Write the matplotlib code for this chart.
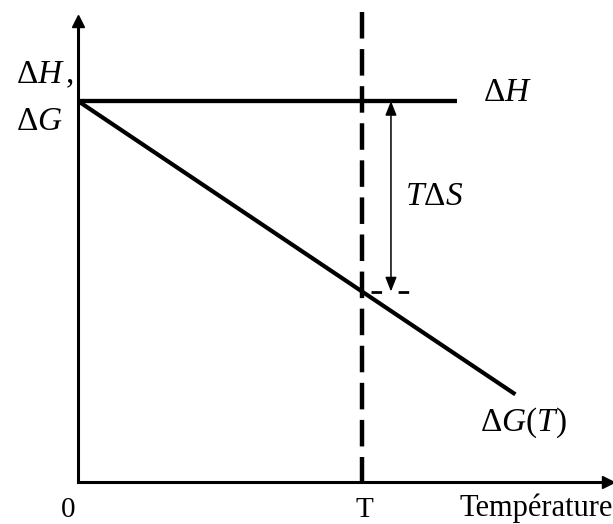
import matplotlib
matplotlib.use("Agg")
import matplotlib.pyplot as plt

plt.rcParams['font.family'] = ['Liberation Serif', 'DejaVu Serif']
plt.rcParams['mathtext.fontset'] = 'custom'
plt.rcParams['mathtext.rm'] = 'Liberation Serif'
plt.rcParams['mathtext.it'] = 'Liberation Serif:italic'
plt.rcParams['mathtext.bf'] = 'Liberation Serif:bold'
plt.rcParams['lines.scale_dashes'] = False

# data (normalised units: T = 1, dH = 1)
T_ref = 1.0
temp_dH = [0.0, 1.335]
dH_vals = [1.0, 1.0]
temp_dG = [0.0, 1.54]
dG_vals = [1.0, 0.23]
dG_at_T = 0.5

fig = plt.figure(figsize=(6.13, 5.24), dpi=100)
ax = fig.add_axes([78 / 613, 42 / 524, 535 / 613, 482 / 524])
ax.set_xlim(0, 535 / 284)
ax.set_ylim(0, 482 / 381)

for side in ['top', 'right']:
    ax.spines[side].set_visible(False)
ax.spines['left'].set_linewidth(2.2)
ax.spines['bottom'].set_linewidth(2.2)
ax.spines['left'].set_bounds(0, 1.215)
ax.spines['bottom'].set_bounds(0, 1.86)
ax.set_xticks([])
ax.set_yticks([])
# axis arrowheads
ax.plot(0, 1.211, marker='^', color='black', ms=8, clip_on=False)
ax.plot(1.866, 0, marker='>', color='black', ms=8, clip_on=False)

# dH and dG lines
ax.plot(temp_dH, dH_vals, color='black', lw=3.1, solid_capstyle='butt')
ax.plot(temp_dG, dG_vals, color='black', lw=3.0, solid_capstyle='butt')

# vertical dashed line at T
ax.plot([T_ref, T_ref], [1.234, 0], color='black', lw=3.2,
        linestyle=(0, (19.1, 7.6)), dash_capstyle='butt')

# short dashed mark at dG(T)
ax.plot([T_ref, 1.169], [dG_at_T, dG_at_T], color='black', lw=2.0,
        linestyle=(13.0, (7.6, 11.9)), dash_capstyle='butt')

# T*dS double arrow
ax.annotate('', xy=(1.102, dH_vals[0]), xytext=(1.102, dG_at_T),
            arrowprops=dict(arrowstyle='<|-|>,head_length=0.43,head_width=0.17',
                            mutation_scale=20, color='black', lw=1.1,
                            shrinkA=0, shrinkB=0))

# labels
ax.text(-0.218, 1.068, r'$\Delta H\,$,', fontsize=24, ha='left', va='center')
ax.text(-0.218, 0.945, r'$\Delta G$', fontsize=24, ha='left', va='center')
ax.text(1.426, 1.021, r'$\Delta H$', fontsize=24, ha='left', va='center')
ax.text(1.151, 0.748, r'$T\Delta S$', fontsize=24, ha='left', va='center')
ax.text(1.415, 0.155, r'$\Delta G(T)$', fontsize=24, ha='left', va='center')

ax.text(-0.035, -0.092, '0', fontsize=21, ha='center', va='baseline')
ax.text(T_ref + 0.007, -0.092, 'T', fontsize=21, ha='center', va='baseline')
ax.text(1.345, -0.088, 'Température', fontsize=22, ha='left', va='baseline')

fig.savefig('out.png', dpi=100)
